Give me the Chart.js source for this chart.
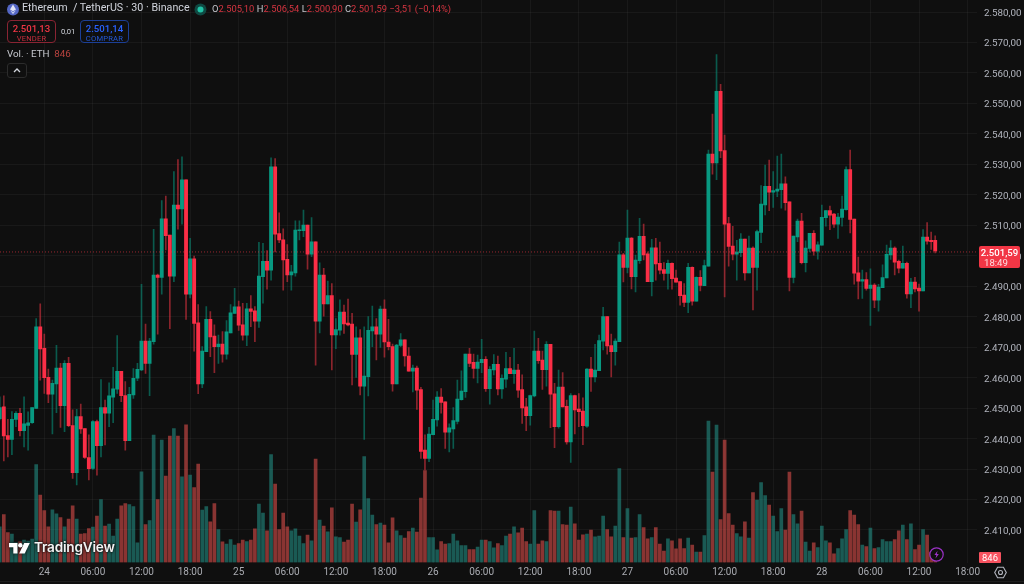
<!DOCTYPE html>
<html lang="pt">
<head>
<meta charset="utf-8">
<title>Ethereum / TetherUS</title>
<script src="https://cdn.jsdelivr.net/npm/chart.js@4"></script>
<style>
html,body{margin:0;padding:0;background:#0f0f0f;width:1024px;height:584px;overflow:hidden}
#wrap{position:relative;width:1024px;height:584px;font-family:Roboto,"Open Sans",sans-serif;color:#d1d4dc}
canvas{position:absolute;left:0;top:0}
.a{position:absolute;white-space:nowrap;line-height:1}
.box{position:absolute;top:20px;width:47px;height:21px;border-radius:4px;border:1px solid;text-align:center}
.box b{display:block;font-weight:500;font-size:9.6px;margin-top:2px;line-height:11px}
.box i{display:block;font-style:normal;font-size:7.6px;line-height:9px;letter-spacing:.2px}
.r{color:#d63541}
</style>
</head>
<body>
<div id="wrap">
<canvas id="c" width="1024" height="584"></canvas>

<svg class="a" style="left:7px;top:3px" width="12" height="13" viewBox="0 0 12 13"><circle cx="6" cy="6.5" r="6" fill="#5467c4"/><path d="M6 1.6 3 6.6 6 8.3 9 6.6Z" fill="#dfe3f6"/><path d="M3 7.3 6 11.3 9 7.3 6 9Z" fill="#c2c9ee"/></svg>
<div class="a" style="left:22px;top:3px;font-size:10.7px;color:#d1d4dc">Ethereum&nbsp; / TetherUS · 30 · Binance</div>
<svg class="a" style="left:194px;top:3px" width="13" height="13"><circle cx="6.5" cy="6.5" r="6" fill="#0f4a43"/><circle cx="6.5" cy="6.5" r="3" fill="#22c3a6"/></svg>
<div class="a" style="left:212px;top:4px;font-size:9.4px;color:#c4c6cc">O<span class="r">2.505,10</span> H<span class="r">2.506,54</span> L<span class="r">2.500,90</span> C<span class="r">2.501,59</span> <span class="r">−3,51 (−0,14%)</span></div>

<div class="box" style="left:7px;border-color:#8a2433"><b style="color:#f23645">2.501,13</b><i style="color:#c92f3e">VENDER</i></div>
<div class="a" style="left:61px;top:28px;font-size:7.6px;color:#d1d4dc">0,01</div>
<div class="box" style="left:80px;border-color:#1c3f96"><b style="color:#2962ff">2.501,14</b><i style="color:#2358d8">COMPRAR</i></div>
<div class="a" style="left:7px;top:49px;font-size:9.8px;color:#c8cad0">Vol. · ETH&nbsp; <span style="color:#b8433f">846</span></div>
<svg class="a" style="left:7px;top:63px" width="20" height="15"><rect x=".5" y=".5" width="19" height="14" rx="2.5" fill="#0f0f0f" stroke="#2c2c2c"/><path d="M7 9 10 6 13 9" fill="none" stroke="#d1d4dc" stroke-width="1.3"/></svg>

<div class="a" style="left:979px;top:246px;width:41px;height:22px;background:#f23645;border-radius:2px;color:#fff;text-align:center;font-size:9.6px"><div style="margin-top:1.5px;line-height:10px;font-weight:500">2.501,59</div><div style="line-height:9px;text-align:left;padding-left:5px;color:#ffdfe2">18:49</div></div>
<div class="a" style="left:979px;top:552px;width:22px;height:11px;background:#f7525f;border-radius:1px;color:#fff;text-align:center;font-size:9.4px;line-height:11px">846</div>

<svg class="a" style="left:929px;top:547px" width="15" height="15"><circle cx="7.5" cy="7.5" r="6.7" fill="#0f0f0f" stroke="#9c32c8" stroke-width="1.2"/><path d="M8.6 3.8 5.4 8h2l-.9 3.4L9.8 7h-2Z" fill="#9c32c8"/></svg>

<svg class="a" style="left:9px;top:543px;filter:drop-shadow(0 0 2px #0f0f0f)" width="22" height="12" viewBox="0 0 22 12"><path d="M0 0H8.5V10.4H4.3V4.2H0Z" fill="#fff"/><circle cx="11.3" cy="2.2" r="2.2" fill="#fff"/><path d="M15.2 0H20.8L15.7 10.4H10.2Z" fill="#fff"/></svg>
<div class="a" style="left:34px;top:541px;font-size:13.6px;font-weight:600;color:#f3f3f3;font-family:Inter,Roboto,sans-serif;letter-spacing:-.2px;text-shadow:0 0 3px #0f0f0f,0 0 2px #0f0f0f">TradingView</div>

<svg class="a" style="left:994px;top:566px" width="13" height="13"><path d="M3.6 1.3H9.4L12.3 6.5 9.4 11.7H3.6L.7 6.5Z" fill="none" stroke="#b2b5be" stroke-width="1.1"/><circle cx="6.5" cy="6.5" r="2" fill="none" stroke="#b2b5be" stroke-width="1.1"/></svg>
<div class="a" style="left:0;top:581px;width:1024px;height:1px;background:#1e1e1e"></div>
</div>

<script>
const tickLabels = ['24','06:00','12:00','18:00','25','06:00','12:00','18:00','26','06:00','12:00','18:00','27','06:00','12:00','18:00','28','06:00','12:00','18:00'];
const priceLine = 2501.25;
const firstDayOffset = 11;

const opens = [
2446.5,2450.4,2441.0,2439.7,2446.3,2448.3,2442.6,2444.3,2445.2,2449.9,
2476.7,2469.6,2460.1,2454.6,2457.9,2463.1,2450.8,2464.7,2444.3,2428.8,
2447.2,2443.3,2433.8,2430.2,2445.6,2437.7,2450.2,2448.3,2453.6,2456.2,
2462.1,2454.1,2439.3,2454.3,2459.8,2462.5,2472.0,2464.7,2471.8,2493.7,
2492.9,2512.1,2506.8,2493.3,2516.6,2515.4,2524.9,2487.4,2499.0,2478.0,
2457.9,2468.5,2479.1,2473.6,2470.2,2471.0,2467.7,2474.7,2481.1,2483.2,
2477.3,2473.9,2482.6,2481.9,2478.5,2493.1,2498.2,2495.3,2529.2,2507.3,
2505.2,2498.8,2493.7,2494.4,2508.2,2508.2,2510.1,2500.5,2504.6,2478.5,
2493.7,2484.2,2486.9,2474.0,2475.6,2481.5,2477.9,2477.6,2467.6,2473.1,
2457.2,2460.3,2475.3,2476.7,2474.3,2482.5,2471.7,2470.2,2457.9,2470.6,
2472.4,2467.1,2462.1,2463.1,2456.1,2436.2,2433.5,2441.3,2446.1,2453.6,
2452.1,2442.1,2443.2,2445.6,2452.8,2455.4,2467.7,2465.0,2463.0,2464.9,
2466.0,2456.4,2462.5,2464.4,2456.3,2459.5,2463.0,2461.3,2462.5,2456.1,
2450.4,2447.5,2454.0,2468.7,2465.8,2462.6,2470.9,2454.7,2443.9,2456.9,
2450.6,2438.9,2454.1,2449.7,2449.0,2444.1,2462.8,2460.2,2462.3,2472.0,
2480.0,2470.5,2468.5,2471.8,2500.3,2496.2,2505.8,2493.1,2498.4,2506.4,
2500.6,2491.5,2502.6,2497.5,2495.5,2494.2,2497.5,2492.7,2491.5,2487.1,
2484.7,2496.2,2485.1,2492.9,2490.2,2496.6,2533.4,2530.5,2554.0,2534.5,
2510.6,2503.2,2500.5,2501.0,2505.5,2494.4,2502.5,2496.2,2507.7,2516.7,
2522.8,2520.9,2521.2,2521.7,2523.6,2517.7,2492.9,2506.2,2511.4,2497.7,
2502.4,2507.4,2501.5,2503.5,2512.5,2514.8,2513.7,2510.4,2512.6,2515.1,
2528.3,2512.0,2494.4,2491.7,2492.2,2489.3,2490.4,2485.4,2489.5,2492.7,
2500.3,2502.5,2498.2,2495.9,2497.5,2487.5,2491.4,2489.4,2488.5,2506.1,
2505.1,2505.10];

const closes = [
2450.2,2440.9,2439.7,2446.3,2448.3,2442.6,2444.8,2445.2,2450.2,2476.7,
2469.4,2460.0,2454.6,2458.1,2463.1,2450.8,2464.7,2444.2,2428.8,2447.2,
2443.2,2433.8,2430.1,2445.6,2437.7,2450.2,2448.3,2454.0,2456.3,2462.1,
2454.1,2439.3,2454.5,2459.8,2462.7,2472.0,2464.7,2472.0,2493.7,2492.9,
2512.1,2506.6,2493.3,2516.6,2515.4,2524.9,2487.4,2499.0,2477.8,2457.9,
2468.7,2479.1,2473.4,2470.2,2471.0,2467.7,2475.0,2481.3,2483.2,2477.2,
2473.9,2482.6,2481.7,2478.5,2493.3,2498.2,2495.3,2529.2,2507.1,2505.2,
2498.6,2493.7,2494.7,2508.4,2508.4,2510.1,2500.5,2504.6,2478.5,2493.7,
2484.2,2486.9,2474.0,2475.8,2481.5,2477.6,2477.3,2467.6,2473.1,2457.2,
2460.5,2475.5,2476.7,2474.3,2482.5,2471.7,2470.2,2457.9,2470.7,2472.4,
2467.1,2462.1,2463.1,2455.9,2435.8,2433.5,2441.5,2446.3,2453.6,2451.9,
2442.1,2443.5,2445.9,2453.0,2455.6,2467.7,2464.7,2463.0,2465.1,2466.0,
2456.4,2462.7,2464.4,2456.3,2459.8,2463.0,2461.3,2462.5,2455.9,2450.1,
2447.5,2454.1,2468.7,2465.6,2462.6,2470.9,2454.6,2443.9,2456.9,2450.4,
2438.9,2454.1,2449.4,2448.8,2444.2,2462.8,2460.2,2462.5,2472.2,2480.0,
2470.4,2468.5,2472.0,2500.3,2496.2,2505.8,2493.1,2498.6,2506.4,2500.3,
2491.5,2502.6,2497.3,2495.3,2494.2,2497.5,2492.5,2491.3,2486.9,2484.7,
2496.2,2485.1,2492.9,2490.3,2496.8,2533.4,2530.5,2554.0,2534.4,2510.4,
2503.1,2500.5,2501.2,2505.5,2494.4,2502.5,2496.2,2507.9,2517.0,2522.8,
2520.9,2521.4,2521.9,2523.6,2517.4,2492.9,2506.5,2511.4,2497.7,2502.5,
2507.4,2501.5,2503.6,2512.6,2514.8,2513.3,2510.4,2512.7,2515.3,2528.3,
2511.9,2494.3,2491.7,2492.2,2489.3,2490.4,2485.4,2489.7,2492.8,2500.5,
2502.5,2497.9,2495.9,2497.5,2487.5,2491.4,2489.1,2488.5,2506.1,2504.8,
2504.6,2501.59];

const highs = [
2453.7,2454.0,2446.3,2448.9,2448.9,2449.9,2453.7,2448.8,2450.2,2479.4,
2484.2,2474.3,2462.8,2459.2,2470.6,2464.7,2465.6,2466.7,2449.4,2449.6,
2451.3,2443.3,2441.2,2445.9,2446.1,2459.4,2452.6,2458.3,2463.4,2473.8,
2462.1,2458.7,2456.8,2463.0,2464.7,2490.6,2477.6,2472.9,2508.7,2494.0,
2518.1,2519.6,2506.8,2527.6,2531.6,2532.5,2524.9,2505.7,2499.9,2484.0,
2470.2,2483.3,2481.7,2477.3,2474.0,2475.1,2478.7,2484.0,2489.3,2485.1,
2484.4,2484.4,2486.9,2483.3,2504.4,2504.1,2501.7,2532.1,2531.9,2514.1,
2508.8,2503.7,2496.9,2511.5,2511.5,2515.0,2510.1,2512.5,2504.6,2497.7,
2495.9,2491.7,2490.9,2479.4,2485.5,2483.8,2485.8,2481.1,2476.7,2475.8,
2476.7,2480.0,2483.5,2479.4,2483.5,2485.5,2479.1,2471.0,2470.9,2474.5,
2472.4,2469.9,2464.1,2463.8,2456.8,2441.2,2443.7,2452.6,2455.4,2456.4,
2452.1,2444.8,2450.2,2459.2,2462.2,2467.7,2469.6,2467.7,2467.4,2472.6,
2466.9,2463.6,2467.6,2467.1,2460.9,2468.3,2466.7,2469.6,2464.4,2460.9,
2453.2,2454.3,2475.3,2472.9,2468.7,2471.8,2470.9,2458.1,2462.5,2461.7,
2452.6,2454.8,2454.3,2454.8,2453.4,2463.0,2466.7,2470.9,2474.0,2483.1,
2480.0,2474.3,2472.7,2504.5,2500.8,2515.0,2506.0,2500.2,2512.3,2510.4,
2501.3,2505.4,2505.7,2504.5,2497.8,2498.6,2497.7,2495.3,2491.5,2490.9,
2497.5,2496.4,2493.1,2495.1,2498.6,2534.7,2546.5,2566.0,2556.3,2539.6,
2512.6,2509.7,2505.1,2507.3,2505.5,2506.5,2502.9,2508.4,2523.0,2529.8,
2531.4,2527.6,2532.7,2533.4,2525.9,2517.7,2506.5,2512.0,2513.9,2504.9,
2507.4,2508.3,2504.6,2516.6,2514.8,2516.3,2513.9,2513.9,2519.6,2529.2,
2534.7,2512.0,2499.6,2495.3,2494.5,2495.7,2490.9,2490.6,2497.0,2503.5,
2505.0,2502.9,2498.6,2503.2,2497.9,2492.6,2492.9,2490.7,2508.6,2510.9,
2507.8,2506.54];

const lows = [
2446.1,2432.7,2434.0,2434.7,2443.9,2440.9,2437.3,2436.2,2445.0,2449.9,
2459.2,2454.8,2451.8,2441.5,2448.5,2443.7,2442.3,2443.9,2426.9,2424.8,
2441.7,2433.5,2426.4,2429.9,2428.0,2434.0,2437.9,2443.9,2445.2,2454.8,
2452.1,2436.2,2439.3,2453.2,2459.0,2462.3,2461.4,2454.1,2471.0,2474.3,
2487.4,2501.9,2476.1,2491.5,2508.7,2510.4,2479.1,2486.2,2468.7,2454.7,
2456.7,2468.5,2466.9,2461.6,2464.7,2465.1,2466.1,2474.7,2481.1,2475.5,
2472.3,2470.5,2476.7,2471.8,2476.5,2484.4,2489.0,2492.0,2501.3,2504.3,
2488.7,2491.5,2488.7,2493.3,2505.2,2506.3,2495.6,2499.7,2464.1,2474.7,
2480.2,2484.2,2462.5,2469.5,2473.9,2474.5,2477.0,2457.6,2460.1,2454.3,
2439.7,2454.0,2470.2,2465.8,2469.9,2466.7,2469.1,2455.6,2457.9,2470.2,
2463.8,2462.1,2455.3,2449.6,2433.5,2429.7,2432.4,2441.2,2444.1,2448.3,
2436.8,2435.6,2436.8,2444.8,2452.6,2453.5,2463.6,2459.8,2458.3,2461.6,
2455.5,2451.3,2460.9,2454.3,2453.2,2456.8,2461.3,2458.1,2453.5,2445.0,
2442.6,2444.4,2453.7,2464.7,2456.1,2457.2,2443.6,2437.0,2443.4,2450.4,
2438.2,2432.2,2441.5,2443.9,2438.0,2443.7,2455.5,2458.6,2462.3,2469.1,
2467.7,2460.2,2464.1,2471.8,2491.4,2494.4,2489.1,2488.1,2497.5,2498.6,
2491.5,2486.8,2492.0,2494.0,2492.0,2489.0,2489.0,2491.3,2483.8,2483.3,
2481.3,2483.8,2485.1,2488.5,2490.2,2496.6,2526.8,2525.0,2532.2,2486.5,
2496.6,2498.6,2492.0,2499.7,2492.0,2494.4,2482.2,2488.7,2504.3,2513.4,
2514.8,2515.9,2519.4,2515.6,2515.0,2488.5,2491.1,2504.6,2497.3,2494.7,
2501.3,2500.2,2498.9,2503.5,2509.7,2508.6,2509.3,2505.7,2509.7,2515.0,
2507.5,2490.7,2485.8,2486.0,2488.7,2477.1,2483.0,2481.8,2489.5,2492.7,
2498.8,2493.7,2494.4,2495.9,2486.1,2483.0,2488.1,2481.8,2488.5,2503.8,
2502.1,2500.90];

const volumes = [
4644,6250,3906,3689,2604,2691,2908,2778,3038,12760,
8767,6770,4644,6857,6336,5859,4644,5642,7378,5642,
3689,3776,4427,4600,6033,8203,4731,4991,3429,5642,
7378,7682,7552,7291,2561,11805,4948,5468,16579,8203,
15928,11241,16449,17447,16449,11154,17924,11371,9765,12803,
6814,7291,5295,7682,4297,2691,2387,2995,2257,2474,
2908,2734,2908,4383,7595,6423,4123,14062,10199,4297,
6423,4644,4123,4383,3429,2474,3559,2821,13454,5512,
4731,3993,7118,3342,3255,2647,2908,7595,5251,6857,
13801,8333,6163,4948,5121,4861,2561,5816,4123,3515,
3168,4036,4470,3949,8376,11978,3255,3255,1649,2734,
2387,2474,3689,2821,2213,2213,1693,1693,1996,2908,
2908,2734,1910,2474,2213,3429,3689,4644,3863,4470,
2734,2387,6770,2387,2821,2734,6770,6684,6684,4948,
4861,7204,5034,2908,3602,3689,4210,3342,3429,6033,
4297,3342,4731,12239,3255,7031,3168,3255,6250,4557,
3081,3255,4557,2387,1476,3081,2821,1779,3081,1823,
3168,2257,1345,1345,3515,18402,11761,17881,5599,15928,
6380,4861,3776,3342,5295,3168,9114,8116,10416,8723,
7465,6033,4036,7031,4210,11761,6250,5034,6684,2647,
1476,2561,1953,4731,2821,2561,1128,1823,3081,4297,
6770,6163,4948,2257,2083,4470,1823,1953,2995,2734,
2734,2995,4123,4861,2995,5034,1693,2257,4297,3559,
1302,846];

const UP='#089981', DOWN='#fb2e46';
const isUp = opens.map((o,i)=>closes[i]>=o);
const xOf = i => i - firstDayOffset;
const xMin = -10.94, xMax = 230.32;

const priceText = v => { const s=v.toFixed(2).replace('.',','); return s.slice(0,1)+'.'+s.slice(1); };
const noPad = s => { s.paddingLeft=0; s.paddingRight=0; s.paddingTop=0; s.paddingBottom=0; };

new Chart(document.getElementById('c'),{
  type:'bar',
  data:{datasets:[
    {type:'line',order:0,data:[{x:xMin,y:priceLine},{x:xMax,y:priceLine}],borderColor:'rgba(242,54,69,.6)',borderWidth:1,borderDash:[1,2],pointRadius:0,yAxisID:'y',xAxisID:'x'},
    {order:1,grouped:false,barThickness:3.2,minBarLength:1,borderWidth:0,yAxisID:'y',xAxisID:'x',
      data:opens.map((o,i)=>({x:xOf(i),y:[o,closes[i]]})),
      backgroundColor:isUp.map(u=>u?UP:DOWN)},
    {order:2,grouped:false,barThickness:1,borderWidth:0,yAxisID:'y',xAxisID:'x',
      data:highs.map((h,i)=>({x:xOf(i),y:[lows[i],h]})),
      backgroundColor:isUp.map(u=>u?'rgba(8,153,129,.55)':'rgba(242,54,69,.55)')},
    {order:3,grouped:false,barThickness:3,borderWidth:0,yAxisID:'v',xAxisID:'x',
      data:volumes.map((v,i)=>({x:xOf(i),y:v})),
      backgroundColor:isUp.map(u=>u?'rgba(38,166,154,.5)':'rgba(239,83,80,.55)')}
  ]},
  options:{
    responsive:false,animation:false,devicePixelRatio:1,
    layout:{padding:0},
    plugins:{legend:{display:false},tooltip:{enabled:false},title:{display:false}},
    scales:{
      x:{type:'linear',min:xMin,max:xMax,offset:false,
        grid:{offset:false,color:'rgba(255,255,255,.045)',drawTicks:false},border:{display:false},
        afterFit(s){s.height=21.5;noPad(s);},
        ticks:{stepSize:12,includeBounds:false,autoSkip:false,maxRotation:0,padding:4,color:'#a9abb1',
          font:{family:'Roboto',size:10},
          callback:v=>tickLabels[Math.round(v/12)]??''}},
      y:{type:'linear',position:'right',min:2399.33,max:2583.94,
        grid:{color:c=>c.tick&&c.tick.value===2400?'transparent':'rgba(255,255,255,.045)',drawTicks:false},border:{display:false},
        afterFit(s){s.width=47;noPad(s);},
        ticks:{stepSize:10,includeBounds:false,autoSkip:false,padding:7,labelOffset:1.5,color:'#b2b5be',
          font:{family:'Roboto',size:9.8},
          callback:v=>v===2400?'':priceText(v)}},
      v:{type:'linear',display:false,min:0,max:73240,position:'left',grid:{display:false}}
    }
  }
});
</script>
</body>
</html>
